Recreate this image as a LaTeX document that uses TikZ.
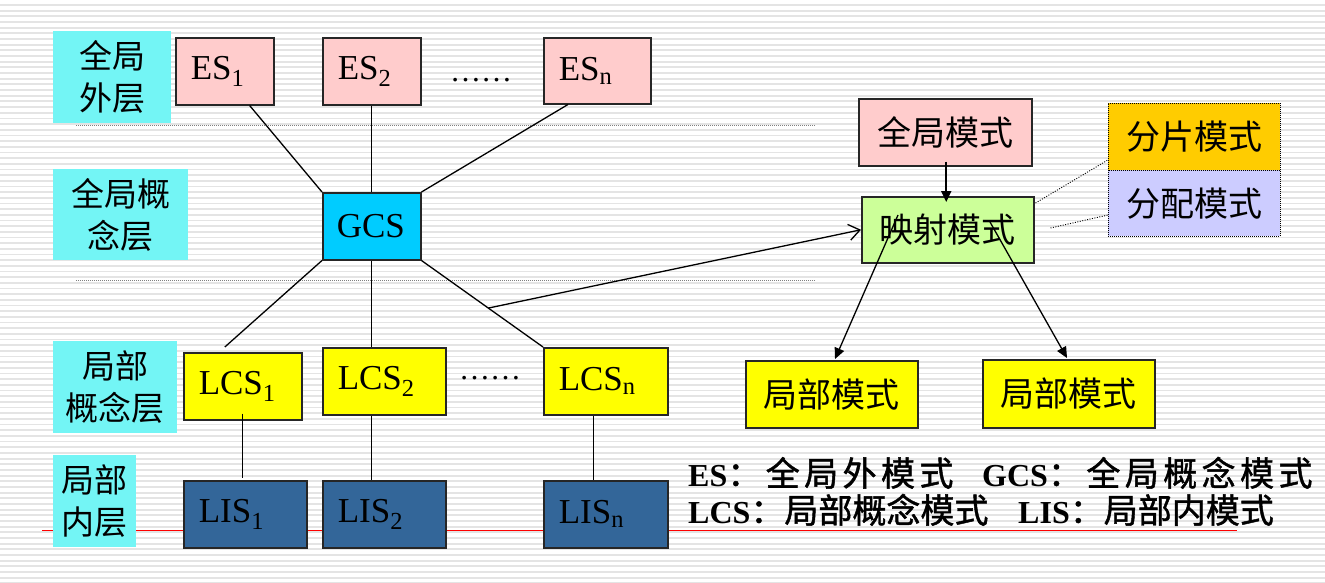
\documentclass[tikz,border=0pt]{standalone}
\usepackage{fontspec}
\setmainfont{Liberation Serif}
\newfontfamily\cjk{Noto Sans CJK SC}
\newfontfamily\cjkla{Noto Sans CJK SC}[LetterSpace=13, FakeBold=1.3]
\newfontfamily\cjklb{Noto Sans CJK SC}[FakeBold=1.3]
\usetikzlibrary{arrows.meta,calc}
\definecolor{layercyan}{RGB}{115,245,245}
\definecolor{espink}{RGB}{255,204,204}
\definecolor{gcscyan}{RGB}{0,204,255}
\definecolor{lcsyellow}{RGB}{255,255,0}
\definecolor{lisblue}{RGB}{51,102,153}
\definecolor{mapgreen}{RGB}{204,255,153}
\definecolor{fragorange}{RGB}{255,204,0}
\definecolor{alloclav}{RGB}{204,204,255}
\definecolor{bgline}{RGB}{228,228,228}
\tikzset{
  bgstroke/.style={draw=bgline, line width=1.8pt},
  sepline/.style={draw=gray, line width=0.9pt, dash pattern=on 1pt off 1pt},
  conn/.style={draw=black, line width=1.3pt},
  box/.style={draw=black!85, line width=1.5pt, inner ysep=0pt, anchor=north west},
  lbox/.style={box, align=left, inner xsep=15pt, font=\fontsize{35}{38}\selectfont},
  cbox/.style={box, inner xsep=0pt, align=center, font=\cjk\fontsize{34}{38}\selectfont},
  dbox/.style={cbox, draw=black, line width=0.9pt, dash pattern=on 1pt off 1pt},
  layer/.style={fill=layercyan, inner sep=0pt, anchor=north west, align=center, font=\cjk\fontsize{33}{42}\selectfont},
  dotsnode/.style={inner sep=0pt, font=\fontsize{31}{31}\selectfont},
  legend/.style={inner sep=0pt, anchor=base west},
  filledarrow/.style={conn, -{Triangle[length=11pt,width=10pt]}},
}
\newcommand\leglat[1]{{\bfseries\fontsize{32}{36}\selectfont #1}}
\newcommand\legcjka[1]{{\cjkla\fontsize{34}{36}\selectfont #1}}
\newcommand\legcjkb[1]{{\cjklb\fontsize{34}{36}\selectfont #1}}
\begin{document}
\begin{tikzpicture}[x=1pt,y=-1pt]
\useasboundingbox (0,0) rectangle (1325,582);
\fill[white] (0,0) rectangle (1325,582);
\foreach \k in {0,...,102} \draw[bgstroke] (0,{5+5.67*\k}) -- (1325,{5+5.67*\k});
% separators
\draw[sepline] (76,125) -- (815,125);
\draw[sepline] (76,280) -- (815,280);
\draw[draw=red, line width=1pt] (42,530) -- (1237,530);
% layer labels
\node[layer, minimum width=118pt, minimum height=92pt] (l1) at (53,31) {全局\\外层};
\node[layer, minimum width=135pt, minimum height=91pt] (l2) at (53,169) {全局概\\念层};
\node[layer, minimum width=124pt, minimum height=92pt] (l3) at (53,341) {局部\\概念层};
\node[layer, minimum width=83pt, minimum height=92pt] (l4) at (53,455) {局部\\内层};
% ES
\node[lbox, fill=espink, text width=68pt, minimum height=67pt] (es1) at (175,37) {ES\textsubscript{1}};
\node[lbox, fill=espink, text width=68pt, minimum height=67pt] (es2) at (322,37) {ES\textsubscript{2}};
\node[lbox, fill=espink, text width=77pt, minimum height=66pt] (esn) at (543,37) {ES\textsubscript{n}};
\node[dotsnode] (dots1) at (481,80) {……};
% GCS
\node[lbox, fill=gcscyan, inner xsep=14pt, text width=70pt, minimum height=67pt] (gcs) at (322,192) {GCS};
% LCS
\node[lbox, fill=lcsyellow, text width=88pt, minimum height=67pt] (lcs1) at (183,352) {LCS\textsubscript{1}};
\node[lbox, fill=lcsyellow, text width=93pt, minimum height=67pt] (lcs2) at (322,347) {LCS\textsubscript{2}};
\node[lbox, fill=lcsyellow, text width=94pt, minimum height=67pt] (lcsn) at (543,347) {LCS\textsubscript{n}};
\node[dotsnode] (dots2) at (490,378) {……};
% LIS
\node[lbox, fill=lisblue, text width=93pt, minimum height=67pt] (lis1) at (183,480) {LIS\textsubscript{1}};
\node[lbox, fill=lisblue, text width=93pt, minimum height=67pt] (lis2) at (322,480) {LIS\textsubscript{2}};
\node[lbox, fill=lisblue, text width=94pt, minimum height=67pt] (lisn) at (543,480) {LIS\textsubscript{n}};
% right side
\node[cbox, fill=espink, minimum width=173pt, minimum height=67pt] (glob) at (858,98) {全局模式};
\node[cbox, fill=mapgreen, minimum width=172pt, minimum height=66pt] (map) at (861,196) {映射模式};
\node[dbox, fill=fragorange, minimum width=172pt, minimum height=67pt] (frag) at (1108,103) {分片模式};
\node[dbox, fill=alloclav, minimum width=172pt, minimum height=66pt] (alloc) at (1108,170) {分配模式};
\node[cbox, fill=lcsyellow, minimum width=172pt, minimum height=67pt] (loc1) at (745,360) {局部模式};
\node[cbox, fill=lcsyellow, minimum width=172pt, minimum height=68pt] (loc2) at (982,359) {局部模式};
% connectors
\draw[conn] ($(es1.south west)!0.75!(es1.south east)$) -- (gcs.north west);
\draw[conn] (es2.south) -- (gcs.north);
\draw[conn] ($(esn.south west)!0.23!(esn.south east)$) -- (gcs.north east);
\draw[conn] (gcs.south west) -- ($(lcs1.north west)!0.35!(lcs1.north east)+(0,-5)$);
\draw[conn] (gcs.south) -- (gcs.south |- lcs2.north);
\draw[conn] (gcs.south east) -- (lcsn.north west);
\draw[conn] ($(lcs1.south)+(0,-7)$) -- ($(lcs1.south |- lis1.north)+(0,-2)$);
\draw[conn] (gcs.south |- lcs2.south) -- (gcs.south |- lis2.north);
\draw[conn] ($(lcsn.south west)!0.4!(lcsn.south east)$) -- ($(lisn.north west)!0.4!(lisn.north east)$);
\coordinate (mid) at ($(gcs.south east)!0.55!(lcsn.north west)$);
\draw[conn, -{Straight Barb[length=11pt,width=16pt,line width=1.3pt]}] (mid) -- (map.west);
\draw[filledarrow, line width=1.8pt] ($(glob.south)+(1,-5)$) -- ($(glob.south |- map.north)+(1,6)$);
\coordinate (ms1) at ($(map.north west)+(37,19)$);
\coordinate (ms2) at ($(map.north west)+(129,26)$);
\draw[filledarrow] (ms1) -- ($(loc1.north west)+(90,-1)$);
\draw[filledarrow] (ms2) -- ($(loc2.north west)+(85,-1)$);
\coordinate (md1) at ($(map.north east)+(1,7)$);
\coordinate (md2) at ($(map.north east)+(16,32)$);
\draw[draw=black, line width=0.9pt, dash pattern=on 1pt off 1.5pt] (md1) -- ($(frag.south west)+(0,-11)$);
\draw[draw=black, line width=0.9pt, dash pattern=on 1pt off 1.5pt] (md2) -- ($(alloc.north west)+(0,45)$);
% legend
\node[legend] (leg1a) at (688,486) {\leglat{ES}\legcjka{：全局外模式}};
\node[legend] (leg1b) at (982,486) {\leglat{GCS}\legcjka{：全局概念模式}};
\node[legend] (leg2a) at (688,523) {\leglat{LCS}\legcjkb{：局部概念模式}};
\node[legend] (leg2b) at (1018,523) {\leglat{LIS}\legcjkb{：局部内模式}};
\end{tikzpicture}
\end{document}
